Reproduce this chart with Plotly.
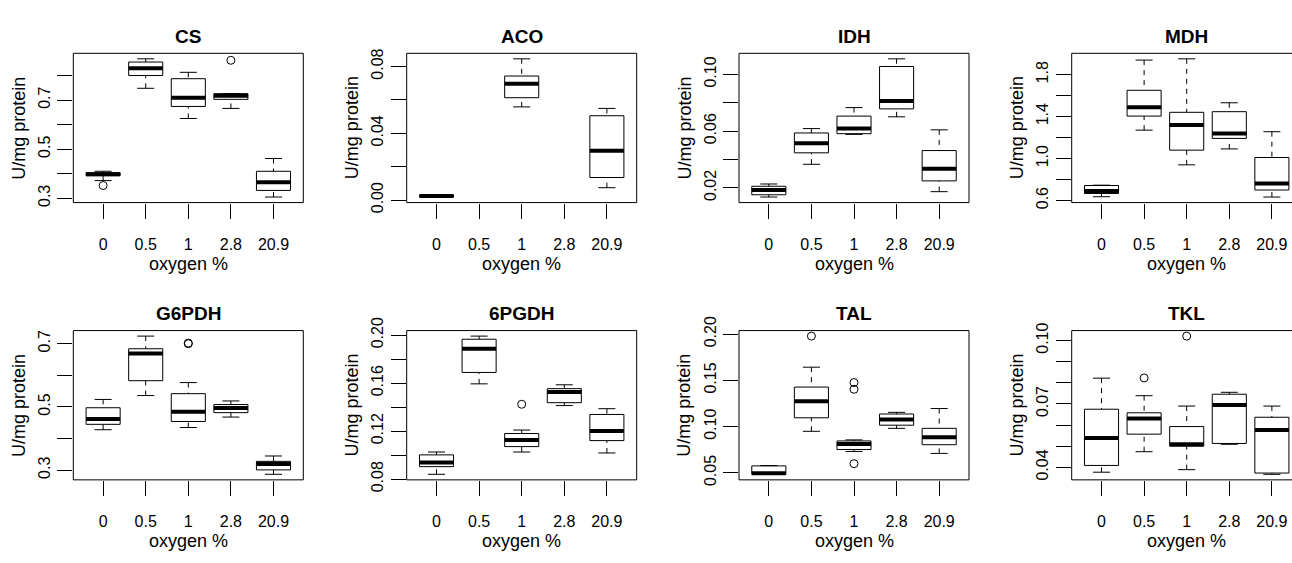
import plotly.graph_objects as go

# ---------------- data ----------------
enzymes = ["CS", "ACO", "IDH", "MDH", "G6PDH", "6PGDH", "TAL", "TKL"]
groups = ["0", "0.5", "1", "2.8", "20.9"]

whisker_low = [
    [0.372, 0.748, 0.625, 0.666, 0.305],
    [0.0018, None, 0.0558, None, 0.0074],
    [0.0135, 0.0366, 0.0577, 0.0701, 0.0173],
    [0.636, 1.271, 0.940, 1.092, 0.633],
    [0.428, 0.536, 0.435, 0.468, 0.287],
    [0.0840, 0.1594, 0.1026, 0.1413, 0.1018],
    [0.0485, 0.0950, 0.0732, 0.0982, 0.0711],
    [0.0377, 0.0474, 0.0389, 0.0509, 0.0367],
]
q1 = [
    [0.392, 0.800, 0.674, 0.703, 0.332],
    [0.0020, None, 0.0613, None, 0.0135],
    [0.0151, 0.0447, 0.0582, 0.0757, 0.0249],
    [0.667, 1.405, 1.080, 1.192, 0.700],
    [0.445, 0.583, 0.454, 0.482, 0.301],
    [0.0904, 0.1689, 0.1071, 0.1437, 0.1121],
    [0.0486, 0.1096, 0.0753, 0.1016, 0.0805],
    [0.0409, 0.0557, 0.0500, 0.0513, 0.0373],
]
median = [
    [0.398, 0.830, 0.709, 0.718, 0.365],
    [0.0025, None, 0.0697, None, 0.0295],
    [0.0184, 0.0515, 0.0618, 0.0813, 0.0335],
    [0.691, 1.490, 1.320, 1.238, 0.761],
    [0.462, 0.669, 0.485, 0.4965, 0.320],
    [0.0938, 0.1886, 0.1127, 0.1527, 0.1201],
    [0.0497, 0.1276, 0.0812, 0.1078, 0.0885],
    [0.0539, 0.0631, 0.0509, 0.0695, 0.0577],
]
q3 = [
    [0.404, 0.855, 0.787, 0.726, 0.410],
    [0.0030, None, 0.0743, None, 0.0505],
    [0.0211, 0.0587, 0.0706, 0.1056, 0.0463],
    [0.743, 1.651, 1.441, 1.447, 1.010],
    [0.4975, 0.684, 0.542, 0.5076, 0.328],
    [0.1002, 0.1966, 0.1180, 0.1554, 0.1339],
    [0.0576, 0.1428, 0.0846, 0.1137, 0.0982],
    [0.0675, 0.0658, 0.0593, 0.0746, 0.0637],
]
whisker_high = [
    [0.410, 0.868, 0.813, 0.726, 0.462],
    [0.0033, None, 0.0846, None, 0.0549],
    [0.0227, 0.0618, 0.0766, 0.1110, 0.0609],
    [0.746, 1.939, 1.951, 1.532, 1.256],
    [0.5237, 0.724, 0.577, 0.519, 0.345],
    [0.1026, 0.1992, 0.1209, 0.1586, 0.1387],
    [0.0580, 0.1643, 0.0857, 0.1155, 0.1196],
    [0.0822, 0.0739, 0.0690, 0.0755, 0.0690],
]
outliers = [
    [[0.352], [], [], [0.862], []],
    [[], [], [], [], []],
    [[], [], [], [], []],
    [[], [], [], [], []],
    [[], [], [0.700, 0.702], [], []],
    [[], [], [0.1424], [], []],
    [[], [0.1979], [0.1477, 0.1404, 0.0600], [], []],
    [[], [0.0823], [0.1021], [], []],
]
ytick_vals = [
    [0.3, 0.4, 0.5, 0.6, 0.7, 0.8],
    [0.00, 0.02, 0.04, 0.06, 0.08],
    [0.02, 0.04, 0.06, 0.08, 0.10],
    [0.6, 0.8, 1.0, 1.2, 1.4, 1.6, 1.8],
    [0.3, 0.4, 0.5, 0.6, 0.7],
    [0.08, 0.10, 0.12, 0.14, 0.16, 0.18, 0.20],
    [0.05, 0.10, 0.15, 0.20],
    [0.04, 0.05, 0.06, 0.07, 0.08, 0.09, 0.10],
]
ytick_text = [
    ["0.3", "", "0.5", "", "0.7", ""],
    ["0.00", "", "0.04", "", "0.08"],
    ["0.02", "", "0.06", "", "0.10"],
    ["0.6", "", "1.0", "", "1.4", "", "1.8"],
    ["0.3", "", "0.5", "", "0.7"],
    ["0.08", "", "0.12", "", "0.16", "", "0.20"],
    ["0.05", "0.10", "0.15", "0.20"],
    ["0.04", "", "", "0.07", "", "", "0.10"],
]
x_title = "oxygen %"
y_title = "U/mg protein"

# ---------------- layout geometry ----------------
W, H = 1292, 563
col_left = [73.3, 406.7, 739.0, 1071.7]
row_top = [41.2, 331.9]
panel_w, panel_h = 230.0, 156.5
FONT = "Liberation Sans, Arial, Helvetica, sans-serif"
BOXW = 0.4      # half box width (R boxwex 0.8)
STAPLE = 0.2    # half staple width

fig = go.Figure()
shapes = []
annotations = []


def px_x(p):
    return p / W


def px_y(p):
    return 1 - p / H


for k, name in enumerate(enzymes):
    r, c = divmod(k, 4)
    ax = "" if k == 0 else str(k + 1)
    xa, ya = "x" + ax, "y" + ax

    left = col_left[c]
    right_full = left + panel_w
    right_px = min(right_full, W)
    top = row_top[r]
    bottom = top + panel_h
    xdom = [px_x(left), px_x(right_px)]
    ydom = [px_y(bottom), px_y(top)]
    xr = [0.3, 0.3 + 5.4 * (right_px - left) / panel_w]

    vals = []
    for g in range(5):
        for arr in (whisker_low, q1, median, q3, whisker_high):
            if arr[k][g] is not None:
                vals.append(arr[k][g])
        vals += outliers[k][g]
    lo, hi = min(vals), max(vals)
    pad = 0.04 * (hi - lo)
    yr = [lo - pad, hi + pad]

    bx, by, wx, wy, sx, sy, mx, my, ox, oy = [], [], [], [], [], [], [], [], [], []
    for g in range(5):
        i = g + 1
        if median[k][g] is None:
            continue
        bx += [i - BOXW, i + BOXW, i + BOXW, i - BOXW, i - BOXW, None]
        by += [q1[k][g], q1[k][g], q3[k][g], q3[k][g], q1[k][g], None]
        wx += [i, i, None, i, i, None]
        wy += [whisker_low[k][g], q1[k][g], None, whisker_high[k][g], q3[k][g], None]
        sx += [i - STAPLE, i + STAPLE, None, i - STAPLE, i + STAPLE, None]
        sy += [whisker_low[k][g], whisker_low[k][g], None,
               whisker_high[k][g], whisker_high[k][g], None]
        mx += [i - BOXW, i + BOXW, None]
        my += [median[k][g], median[k][g], None]
        for v in outliers[k][g]:
            ox.append(i)
            oy.append(v)

    common = dict(xaxis=xa, yaxis=ya, showlegend=False, hoverinfo="skip", cliponaxis=False)
    fig.add_trace(go.Scatter(x=wx, y=wy, mode="lines",
                             line=dict(color="black", width=1, dash="5px,5px"), **common))
    fig.add_trace(go.Scatter(x=sx, y=sy, mode="lines",
                             line=dict(color="black", width=1), **common))
    fig.add_trace(go.Scatter(x=bx, y=by, mode="lines",
                             line=dict(color="black", width=1), **common))
    fig.add_trace(go.Scatter(x=mx, y=my, mode="lines",
                             line=dict(color="black", width=4), **common))
    if ox:
        fig.add_trace(go.Scatter(x=ox, y=oy, mode="markers",
                                 marker=dict(symbol="circle-open", size=8, color="black",
                                             line=dict(width=1, color="black")), **common))

    fig.layout["xaxis" + ax] = dict(
        domain=xdom, range=xr, anchor=ya, showgrid=False, zeroline=False,
        showline=False, tickmode="array", tickvals=[1, 2, 3, 4, 5], ticktext=groups,
        ticks="outside", ticklen=15, tickwidth=1, tickcolor="black",
        tickfont=dict(family=FONT, size=16, color="black"), ticklabelstandoff=12,
        fixedrange=True)
    fig.layout["yaxis" + ax] = dict(
        domain=ydom, range=yr, anchor=xa, showgrid=False, zeroline=False,
        showline=False, tickmode="array", tickvals=ytick_vals[k], ticktext=ytick_text[k],
        ticks="outside", ticklen=15, tickwidth=1, tickcolor="black", tickangle=-90,
        tickfont=dict(family=FONT, size=16, color="black"), ticklabelstandoff=1,
        fixedrange=True)

    # plot frame (R box) as separate edges; the right edge of the last column is off-canvas
    edge = dict(type="line", xref="paper", yref="paper",
                line=dict(color="black", width=1), layer="above")
    shapes.append(dict(edge, x0=px_x(left), x1=px_x(left), y0=px_y(bottom), y1=px_y(top)))
    shapes.append(dict(edge, x0=px_x(left), x1=px_x(right_px), y0=px_y(top), y1=px_y(top)))
    shapes.append(dict(edge, x0=px_x(left), x1=px_x(right_px), y0=px_y(bottom), y1=px_y(bottom)))
    if right_full <= W:
        shapes.append(dict(edge, x0=px_x(right_full), x1=px_x(right_full),
                           y0=px_y(bottom), y1=px_y(top)))

    # titles
    cx = px_x(left + panel_w / 2)
    annotations.append(dict(text="<b>" + name + "</b>", x=cx, y=px_y(top - 17.8),
                            xref="paper", yref="paper", showarrow=False,
                            xanchor="center", yanchor="middle",
                            font=dict(family=FONT, size=19, color="black")))
    annotations.append(dict(text=x_title, x=cx, y=px_y(bottom + 64),
                            xref="paper", yref="paper", showarrow=False,
                            xanchor="center", yanchor="middle",
                            font=dict(family=FONT, size=18, color="black")))
    annotations.append(dict(text=y_title, x=px_x(left - 54.5), y=px_y(top + panel_h / 2),
                            xref="paper", yref="paper", showarrow=False, textangle=-90,
                            xanchor="center", yanchor="middle",
                            font=dict(family=FONT, size=18, color="black")))

fig.update_layout(width=W, height=H, margin=dict(l=0, r=0, t=0, b=0),
                  paper_bgcolor="white", plot_bgcolor="white",
                  shapes=shapes, annotations=annotations)

fig.write_html("out.html")
